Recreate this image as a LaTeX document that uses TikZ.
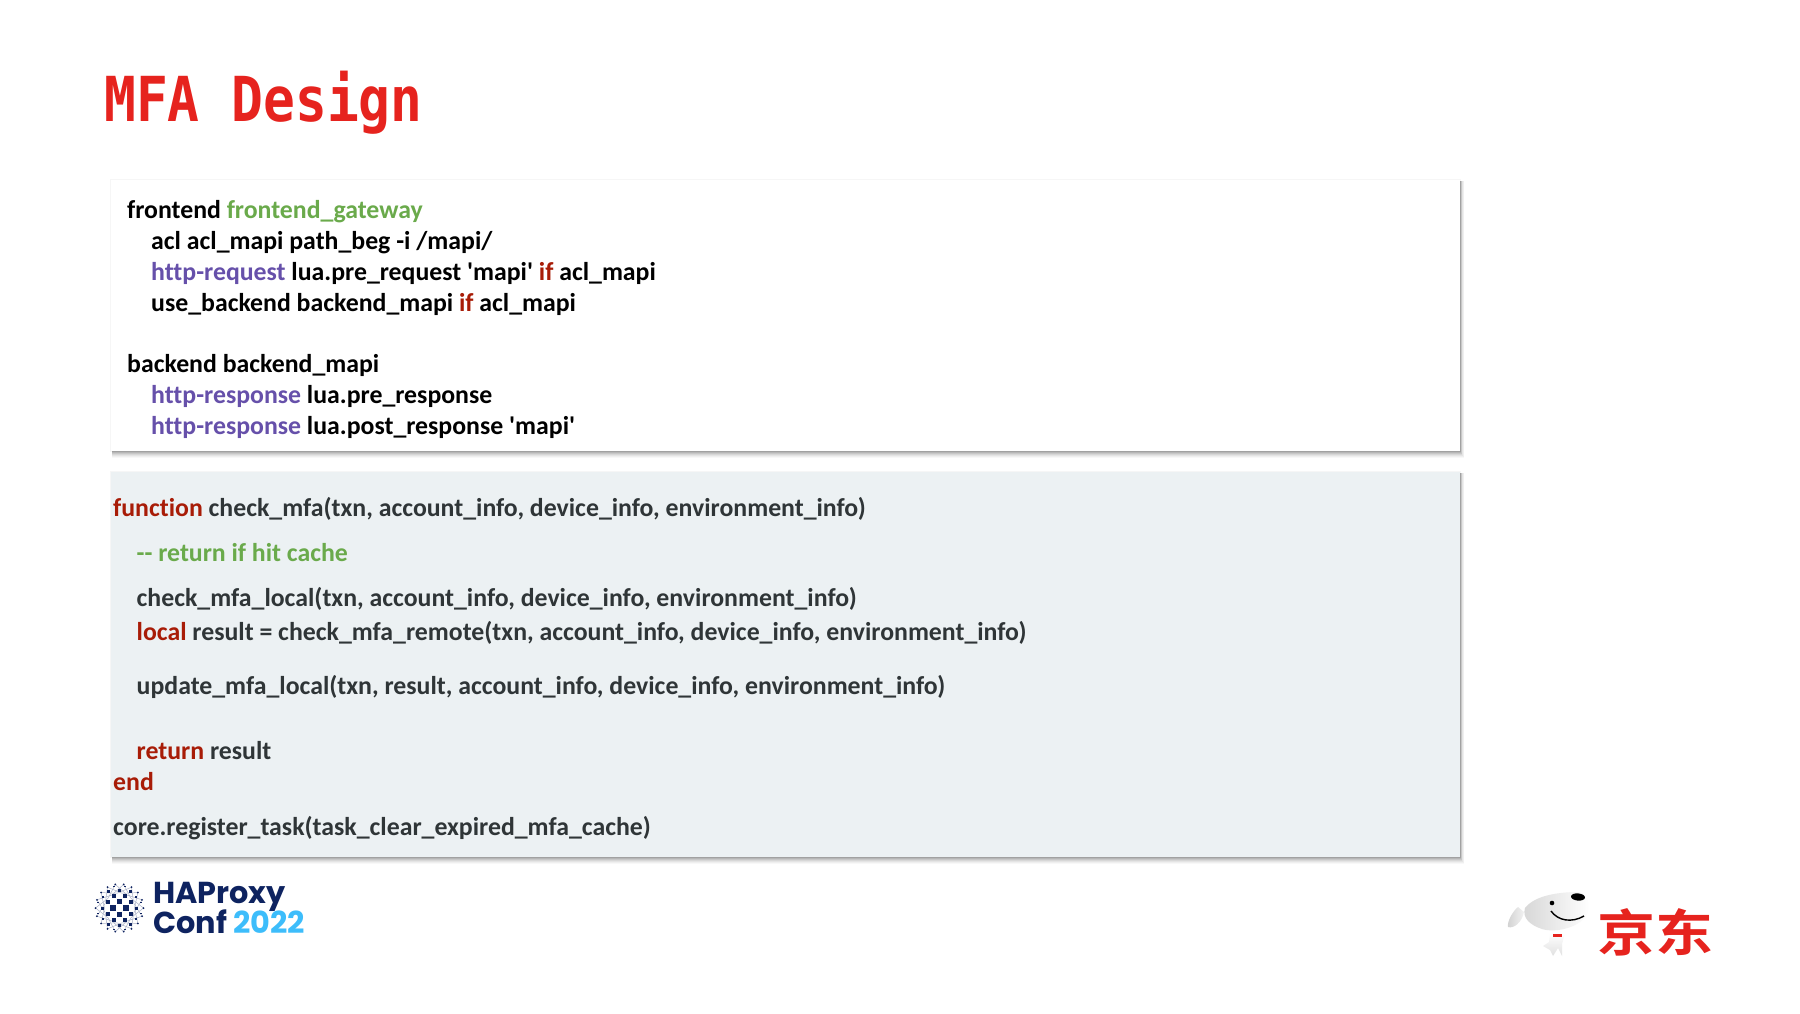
\documentclass[tikz,border=0pt]{standalone}
\usepackage{fontspec}
\usepackage{tikz}
\usetikzlibrary{calc, positioning}

\newfontfamily\codefont{Carlito}[BoldFont={Carlito Bold}, Ligatures=NoCommon]
\newfontfamily\titlefont{DejaVu Sans Mono}[BoldFont={DejaVu Sans Mono Bold}]
\newfontfamily\logofont{Poppins}[BoldFont={Poppins Bold}]
\newfontfamily\cjk{Noto Sans CJK SC}[BoldFont={Noto Sans CJK SC Bold}]

\definecolor{titlered}{HTML}{E6231E}
\definecolor{kwgreen}{HTML}{6AAA4B}
\definecolor{kwpurple}{HTML}{6650AA}
\definecolor{kwred}{HTML}{A81C07}
\definecolor{boxgrey}{HTML}{ECF1F3}
\definecolor{codegrey}{HTML}{2F3537}
\definecolor{logonavy}{HTML}{0E2360}
\definecolor{logoblue}{HTML}{3DBDFB}
\definecolor{shadowgrey}{HTML}{555555}

\tikzset{
  code/.style={anchor=base west, inner sep=0pt, font=\codefont\bfseries\fontsize{25.8}{30}\selectfont},
  logotext/.style={anchor=base west, inner sep=0pt, text=logonavy, font=\logofont\bfseries\fontsize{30.3}{32}\selectfont},
}
\newcommand{\us}{\_}
\newcommand{\panelshadow}[4]{%
  \fill[shadowgrey, opacity=0.05] ({#1-1},{#2-1.5}) rectangle ({#3+1},{#4+1});
  \foreach \k/\o in {7/0.04,6/0.05,5/0.07,4/0.09,3/0.12,2/0.14,1/0.16}{
    \fill[shadowgrey, opacity=\o] ({#1+1},{#2+1}) rectangle ({#3+\k*0.6},{#4+\k});
  }
}

\begin{document}
\begin{tikzpicture}[x=1pt, y=-1pt]
  \useasboundingbox (0,0) rectangle (1800,1013);
  \fill[white] (0,0) rectangle (1800,1013);

  % title
  \node[anchor=base west, inner sep=0pt, text=titlered, xscale=0.853, font=\titlefont\bfseries\fontsize{62}{62}\selectfont] (title) at (104,121.5) {MFA Design};

  % upper panel
  \panelshadow{111}{180}{1460}{451}
  \fill[white] (111,180) rectangle (1460,451);
  \node[code] (front) at (127,218) {frontend \textcolor{kwgreen}{frontend\us gateway}};
  \node[code] (acl) at (151,249) {acl acl\us mapi path\us beg -i /mapi/};
  \node[code] (req) at (151,280) {\textcolor{kwpurple}{http-request} lua.pre\us request 'mapi' \textcolor{kwred}{if} acl\us mapi};
  \node[code] (use) at (151,311) {use\us backend backend\us mapi \textcolor{kwred}{if} acl\us mapi};
  \node[code] (back) at (127,372) {backend backend\us mapi};
  \node[code] (resp) at (151,403) {\textcolor{kwpurple}{http-response} lua.pre\us response};
  \node[code] (post) at (151,434) {\textcolor{kwpurple}{http-response} lua.post\us response 'mapi'};

  % lower panel
  \panelshadow{111}{472}{1460}{857}
  \fill[boxgrey] (111,472) rectangle (1460,857);
  \begin{scope}[every node/.append style={text=codegrey}]
    \node[code] (func) at (113,516) {\textcolor{kwred}{function} check\us mfa(txn, account\us info, device\us info, environment\us info)};
    \node[code] (hit) at (136.5,561) {\textcolor{kwgreen}{-- return if hit cache}};
    \node[code] (local) at (136.5,606) {check\us mfa\us local(txn, account\us info, device\us info, environment\us info)};
    \node[code] (remote) at (136.5,640) {\textcolor{kwred}{local} result = check\us mfa\us remote(txn, account\us info, device\us info, environment\us info)};
    \node[code] (update) at (136.5,694) {update\us mfa\us local(txn, result, account\us info, device\us info, environment\us info)};
    \node[code] (ret) at (136.5,759) {\textcolor{kwred}{return} result};
    \node[code] (fin) at (113,790) {\textcolor{kwred}{end}};
    \node[code] (reg) at (113,835) {core.register\us task(task\us clear\us expired\us mfa\us cache)};
  \end{scope}

  % haproxy ball
  \coordinate (ball) at (119.5,908);
  \foreach \a in {0,20,...,340}{
    \draw[logonavy!35, line width=0.5] ($(ball)+(\a:24)$) -- ($(ball)+(\a+40:15)$);
    \draw[logonavy!35, line width=0.5] ($(ball)+(\a:24)$) -- ($(ball)+(\a-40:15)$);
    \fill[logonavy] ($(ball)+(\a:24)$) circle (1);
  }
  \foreach \i in {-4,...,4}{
    \foreach \j in {-4,...,4}{
      \pgfmathsetmacro{\rr}{sqrt(\i*\i+\j*\j)}
      \pgfmathtruncatemacro{\pty}{mod(abs(\i+\j),2)}
      \pgfmathtruncatemacro{\ok}{and(\pty==1,\rr<4.6) ? 1 : 0}
      \ifnum\ok=1
        \pgfmathsetmacro{\sz}{max(0.8,3.3-0.6*\rr)}
        \pgfmathsetmacro{\wrp}{6.6*(1-0.045*\rr)}
        \fill[logonavy] ($(ball)+(\i*\wrp-\sz,\j*\wrp-\sz)$) rectangle ($(ball)+(\i*\wrp+\sz,\j*\wrp+\sz)$);
      \fi
    }
  }
  \node[logotext] (haproxy) at (153,903) {HAProxy};
  \node[logotext] (conf) at (153,933.5) {Conf \textcolor{logoblue}{2022}};

  % jd dog
  \shade[left color=black!18, right color=black!5] (1518,907) .. controls (1512,912) and (1507,922) .. (1508,927) .. controls (1514,929) and (1522,922) .. (1524,912) -- cycle;
  \shade[left color=black!16, right color=white] (1525,908) .. controls (1535,895) and (1560,892) .. (1578,892) .. controls (1590,893) and (1590,910) .. (1586,916) .. controls (1578,928) and (1555,933) .. (1542,929) .. controls (1530,925) and (1522,918) .. (1525,908) -- cycle;
  \shade[top color=white, bottom color=black!12] (1550,933) -- (1565,933) -- (1562,944) -- (1562,956) -- (1558,948) -- (1553,956) -- (1550,950) -- (1543,946) -- (1549,942) -- cycle;
  \fill[titlered] (1553,934) -- (1562,934) -- (1562,936.5) -- (1553,936.5) -- cycle;
  \fill[black] (1552,903) circle (2.3);
  \fill[black, rotate around={-5:(1578,897)}] (1578,897) ellipse (7 and 3.6);
  \draw[black, line width=1.4] (1551,911) .. controls (1558,921) and (1572,923) .. (1584,916);
  \node[anchor=base west, inner sep=0pt, text=titlered, xscale=1.16, font=\cjk\bfseries\fontsize{50}{50}\selectfont] (jd) at (1597,951) {京东};
\end{tikzpicture}
\end{document}
